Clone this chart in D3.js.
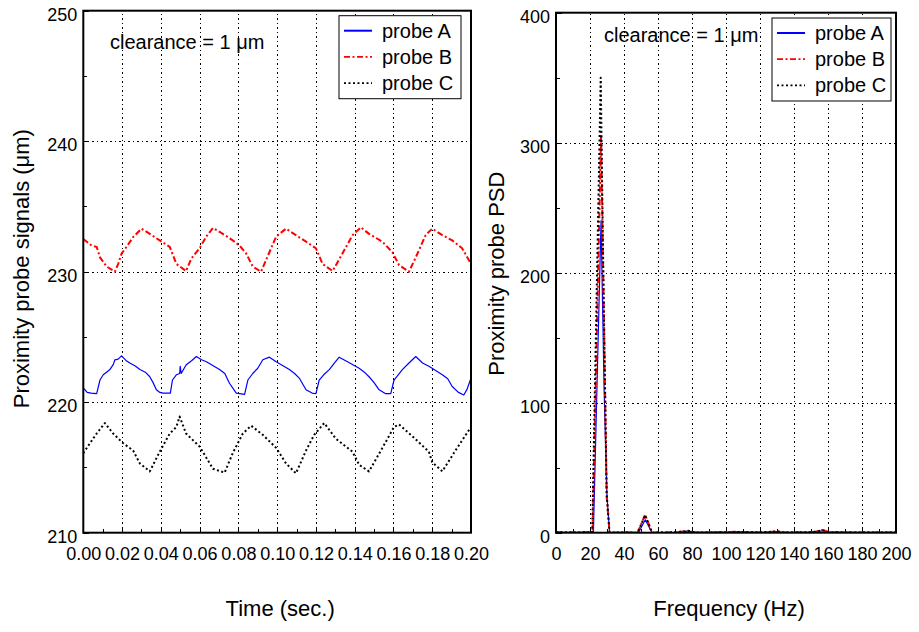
<!DOCTYPE html>
<html>
<head>
<meta charset="utf-8">
<script src="https://cdn.jsdelivr.net/npm/d3@7"></script>
<style>
  body { margin: 0; background: #fff; }
  svg { display: block; font-family: "Liberation Sans", Arial, sans-serif; }
</style>
</head>
<body>
<svg id="chart" width="919" height="632"></svg>
<script>

// ---- time signals (sec., um) ----
var timeA = [0, 0.002, 0.004, 0.0069, 0.0086, 0.0103, 0.012, 0.0137, 0.0155, 0.0163, 0.018, 0.0197, 0.022, 0.024, 0.027, 0.0292, 0.032, 0.0343, 0.036, 0.0377, 0.0395, 0.0411, 0.0449, 0.046, 0.048, 0.0497, 0.050, 0.0505, 0.053, 0.056, 0.0583, 0.061, 0.0635, 0.067, 0.0703, 0.073, 0.0754, 0.0789, 0.0832, 0.0849, 0.0874, 0.090, 0.0926, 0.096, 0.0995, 0.103, 0.1063, 0.109, 0.1114, 0.1149, 0.118, 0.12, 0.1217, 0.124, 0.1269, 0.1295, 0.132, 0.1363, 0.1423, 0.145, 0.1474, 0.150, 0.1526, 0.156, 0.1586, 0.1603, 0.1646, 0.168, 0.1715, 0.175, 0.1783, 0.1852, 0.188, 0.1903, 0.1935, 0.1963, 0.198, 0.2];
var probeA = [221.1, 220.75, 220.7, 220.65, 221.7, 222.1, 222.3, 222.5, 222.9, 223.25, 223.3, 223.55, 223.2, 223.0, 222.75, 222.5, 222.3, 221.95, 221.5, 220.95, 220.75, 220.7, 220.7, 221.7, 222.1, 222.2, 222.75, 222.2, 222.85, 223.2, 223.5, 223.25, 223.1, 222.8, 222.5, 222.2, 221.45, 220.7, 220.6, 221.7, 222.2, 222.6, 223.25, 223.45, 223.1, 222.8, 222.5, 222.2, 221.85, 220.95, 220.7, 220.65, 221.7, 222.1, 222.5, 223.0, 223.45, 223.1, 222.6, 222.3, 221.95, 221.5, 220.95, 220.65, 220.65, 221.7, 222.5, 223.0, 223.5, 223.0, 222.75, 222.1, 221.8, 221.2, 220.75, 220.55, 221.0, 221.85];

var timeB = [0, 0.0043, 0.0069, 0.0086, 0.012, 0.0163, 0.018, 0.0198, 0.0223, 0.0257, 0.030, 0.0343, 0.0394, 0.0446, 0.048, 0.053, 0.0557, 0.060, 0.0635, 0.0669, 0.072, 0.0771, 0.0806, 0.084, 0.0874, 0.0917, 0.0943, 0.0995, 0.1046, 0.1097, 0.1149, 0.12, 0.1234, 0.1286, 0.1337, 0.1389, 0.1432, 0.1474, 0.1543, 0.1594, 0.1629, 0.168, 0.1715, 0.1766, 0.18, 0.1852, 0.1903, 0.1954, 0.2];
var probeB = [232.5, 232.0, 231.9, 231.1, 230.4, 230.0, 230.6, 231.4, 231.9, 232.65, 233.3, 232.9, 232.4, 231.9, 230.6, 230.05, 231.0, 231.8, 232.7, 233.35, 232.9, 232.4, 232.0, 231.4, 230.4, 230.0, 230.9, 232.7, 233.3, 232.8, 232.3, 231.8, 230.6, 230.05, 231.4, 232.8, 233.4, 232.9, 232.3, 231.5, 230.5, 230.0, 231.1, 232.8, 233.3, 232.8, 232.4, 231.8, 230.6];

var timeC = [0, 0.0034, 0.0069, 0.0111, 0.0154, 0.0206, 0.0257, 0.0292, 0.0343, 0.0394, 0.0446, 0.048, 0.0497, 0.053, 0.06, 0.0669, 0.0729, 0.0771, 0.0823, 0.0866, 0.0926, 0.0995, 0.1046, 0.1097, 0.1149, 0.1191, 0.1243, 0.1303, 0.1389, 0.1423, 0.1474, 0.1543, 0.1603, 0.1629, 0.1697, 0.1783, 0.18, 0.1852, 0.192, 0.2];
var probeC = [216.1, 216.85, 217.6, 218.4, 217.6, 216.85, 216.3, 215.3, 214.7, 216.2, 217.6, 218.1, 218.9, 217.6, 216.6, 214.9, 214.6, 216.1, 217.6, 218.2, 217.5, 216.5, 215.3, 214.55, 216.3, 217.5, 218.4, 217.2, 216.2, 215.2, 214.7, 216.5, 218.1, 218.3, 217.4, 216.2, 215.4, 214.7, 216.3, 218.1];

// ---- power spectra (Hz) ----
var freqA = [0, 10, 20, 22, 26.5, 28.3, 30, 31.5, 40, 48.5, 52.5, 56.5, 70, 78, 82, 100, 106, 120, 130, 134, 150, 157, 161, 180, 200];
var psdA  = [0.3, 0.2, 0.3, 0, 240, 110, 28, 0, 0.2, 0, 10, 0, 0.3, 1.2, 0.2, 0.3, 0.6, 0.2, 0.8, 0.2, 0.3, 1.5, 0.3, 0.2, 0.2];
var freqB = [0, 10, 20, 21.5, 26.5, 28, 29.8, 31.5, 40, 48, 52.4, 56.5, 70, 78, 82, 100, 106, 120, 130, 134, 150, 157, 161, 180, 200];
var psdB  = [0.3, 0.2, 0.3, 0, 305, 180, 28, 0, 0.2, 0, 13.8, 0, 0.3, 1.5, 0.2, 0.3, 0.7, 0.2, 1.0, 0.2, 0.3, 2.0, 0.3, 0.2, 0.2];
var freqC = [0, 10, 20, 21.3, 26.3, 28, 29.8, 31.5, 40, 48, 52.4, 56.5, 70, 78, 82, 100, 106, 120, 130, 134, 150, 157, 161, 180, 200];
var psdC  = [0.3, 0.2, 0.3, 0, 350, 185, 30, 0, 0.2, 0, 13.5, 0, 0.3, 1.4, 0.2, 0.3, 0.6, 0.2, 1.0, 0.2, 0.3, 1.8, 0.3, 0.2, 0.2];

// ---- ticks / labels ----
var timeTicks = [0, 0.02, 0.04, 0.06, 0.08, 0.10, 0.12, 0.14, 0.16, 0.18, 0.20];
var timeMinor = [0.01, 0.03, 0.05, 0.07, 0.09, 0.11, 0.13, 0.15, 0.17, 0.19];
var signalTicks = [210, 220, 230, 240, 250];
var signalMinor = [215, 225, 235, 245];
var freqTicks = [0, 20, 40, 60, 80, 100, 120, 140, 160, 180, 200];
var freqMinor = [10, 30, 50, 70, 90, 110, 130, 150, 170, 190];
var psdTicks = [0, 100, 200, 300, 400];
var psdMinor = [50, 150, 250, 350];
var seriesNames = ["probe A", "probe B", "probe C"];
var note = "clearance = 1 \u03bcm";

var styles = [
  {colour: "#0000ff", dash: null, width: 1.2, legendWidth: 2},
  {colour: "#ff0000", dash: "6,2.5,2,2.5", width: 2, legendWidth: 1.8},
  {colour: "#000000", dash: "2,2.5", width: 2, legendWidth: 1.8}
];

var svg = d3.select("#chart");

function zip(xs, ys) {
  return xs.map(function(v, i) { return [v, ys[i]]; });
}

function panel(p) {
  var x = d3.scaleLinear().domain(p.xDomain).range([p.left, p.right]);
  var y = d3.scaleLinear().domain(p.yDomain).range([p.bottom, p.top]);
  var g = svg.append("g");
  var h = p.bottom - p.top, w = p.right - p.left;

  // dotted grid
  var gx = g.append("g").attr("transform", "translate(0," + p.bottom + ")")
      .call(d3.axisBottom(x).tickValues(p.xTicks.slice(1, -1)).tickSize(-h).tickFormat(""));
  var gy = g.append("g").attr("transform", "translate(" + p.left + ",0)")
      .call(d3.axisLeft(y).tickValues(p.yTicks.slice(1, -1)).tickSize(-w).tickFormat(""));
  [gx, gy].forEach(function(s) {
    s.select(".domain").remove();
    s.selectAll("line").attr("stroke", "#000").attr("stroke-width", 1)
      .attr("stroke-dasharray", "1.5,3").attr("shape-rendering", "crispEdges");
  });

  // small inner ticks
  var mx = g.append("g").attr("transform", "translate(0," + p.bottom + ")")
      .call(d3.axisBottom(x).tickValues(p.xMinor).tickSize(-4).tickFormat(""));
  var my = g.append("g").attr("transform", "translate(" + p.left + ",0)")
      .call(d3.axisLeft(y).tickValues(p.yMinor).tickSize(-4).tickFormat(""));
  var Mx = g.append("g").attr("transform", "translate(0," + p.bottom + ")")
      .call(d3.axisBottom(x).tickValues(p.xTicks).tickSize(-6).tickFormat(""));
  var My = g.append("g").attr("transform", "translate(" + p.left + ",0)")
      .call(d3.axisLeft(y).tickValues(p.yTicks).tickSize(-6).tickFormat(""));
  [mx, my, Mx, My].forEach(function(s) {
    s.select(".domain").remove();
    s.selectAll("line").attr("stroke", "#000").attr("stroke-width", 1).attr("shape-rendering", "crispEdges");
  });

  // tick labels
  var lx = g.append("g").attr("transform", "translate(0," + p.bottom + ")")
      .call(d3.axisBottom(x).tickValues(p.xTicks).tickSize(0).tickPadding(0).tickFormat(p.xFormat));
  lx.selectAll("text").attr("dy", null).attr("y", 27);
  var ly = g.append("g").attr("transform", "translate(" + p.left + ",0)")
      .call(d3.axisLeft(y).tickValues(p.yTicks).tickSize(0).tickPadding(6).tickFormat(d3.format("d")));
  ly.selectAll("text").attr("dy", "0.52em");
  [lx, ly].forEach(function(s) {
    s.select(".domain").remove();
    s.attr("font-family", null).attr("font-size", null);
    s.selectAll("text").attr("fill", "#000").style("font-size", "18px");
  });

  // data lines
  var clipId = "clip" + p.id;
  svg.append("clipPath").attr("id", clipId).append("rect")
      .attr("x", p.left).attr("y", p.top).attr("width", w).attr("height", h);
  var line = d3.line().x(function(d) { return x(d[0]); }).y(function(d) { return y(d[1]); });
  g.append("g").attr("clip-path", "url(#" + clipId + ")")
    .selectAll("path").data(p.series).join("path")
      .attr("d", function(d) { return line(d); })
      .attr("fill", "none")
      .attr("stroke", function(d, i) { return styles[i].colour; })
      .attr("stroke-width", function(d, i) { return styles[i].width; })
      .attr("stroke-dasharray", function(d, i) { return styles[i].dash; })
      .attr("stroke-linejoin", "round");

  // frame
  g.append("rect").attr("x", p.left).attr("y", p.top).attr("width", w).attr("height", h)
      .attr("fill", "none").attr("stroke", "#000").attr("stroke-width", 2);

  // annotation
  g.append("text").attr("x", p.noteX).attr("y", p.noteY)
      .style("font-size", "20px").text(note);

  // legend
  var lg = g.append("g").attr("transform", "translate(" + p.legend[0] + "," + p.legend[1] + ")");
  lg.append("rect").attr("width", p.legend[2]).attr("height", 83)
      .attr("fill", "#fff").attr("stroke", "#000").attr("stroke-width", 1);
  var item = lg.selectAll("g.item").data(seriesNames).join("g")
      .attr("class", "item")
      .attr("transform", function(d, i) { return "translate(0," + (15 + i * 26.2) + ")"; });
  item.append("line").attr("x1", 5).attr("x2", 33)
      .attr("stroke", function(d, i) { return styles[i].colour; })
      .attr("stroke-width", function(d, i) { return styles[i].legendWidth; })
      .attr("stroke-dasharray", function(d, i) { return styles[i].dash; });
  item.append("text").attr("x", 43).attr("y", 7).style("font-size", "20px").text(function(d) { return d; });

  // axis titles
  g.append("text").attr("x", (p.left + p.right) / 2 + 3).attr("y", 616)
      .attr("text-anchor", "middle").style("font-size", "22px").text(p.xTitle);
  g.append("text").attr("transform", "translate(" + p.yTitleX + "," + ((p.top + p.bottom) / 2 + p.yTitleShift) + ") rotate(-90)")
      .attr("text-anchor", "middle").style("font-size", "22px").text(p.yTitle);
}

panel({
  id: "L", left: 83.3, right: 471, top: 10.7, bottom: 532.7,
  xDomain: [0, 0.2], yDomain: [210, 250],
  xTicks: timeTicks, xMinor: timeMinor, yTicks: signalTicks, yMinor: signalMinor,
  xFormat: d3.format(".2f"),
  series: [zip(timeA, probeA), zip(timeB, probeB), zip(timeC, probeC)],
  noteX: 110, noteY: 49, legend: [339, 15.7, 122],
  xTitle: "Time (sec.)", yTitle: "Proximity probe signals (\u03bcm)", yTitleX: 29, yTitleShift: -3
});

panel({
  id: "R", left: 556, right: 896, top: 12.7, bottom: 532.7,
  xDomain: [0, 200], yDomain: [0, 400],
  xTicks: freqTicks, xMinor: freqMinor, yTicks: psdTicks, yMinor: psdMinor,
  xFormat: d3.format("d"),
  series: [zip(freqA, psdA), zip(freqB, psdB), zip(freqC, psdC)],
  noteX: 604, noteY: 42, legend: [772, 18, 119],
  xTitle: "Frequency (Hz)", yTitle: "Proximity probe PSD", yTitleX: 504, yTitleShift: 1
});

</script>
</body>
</html>
